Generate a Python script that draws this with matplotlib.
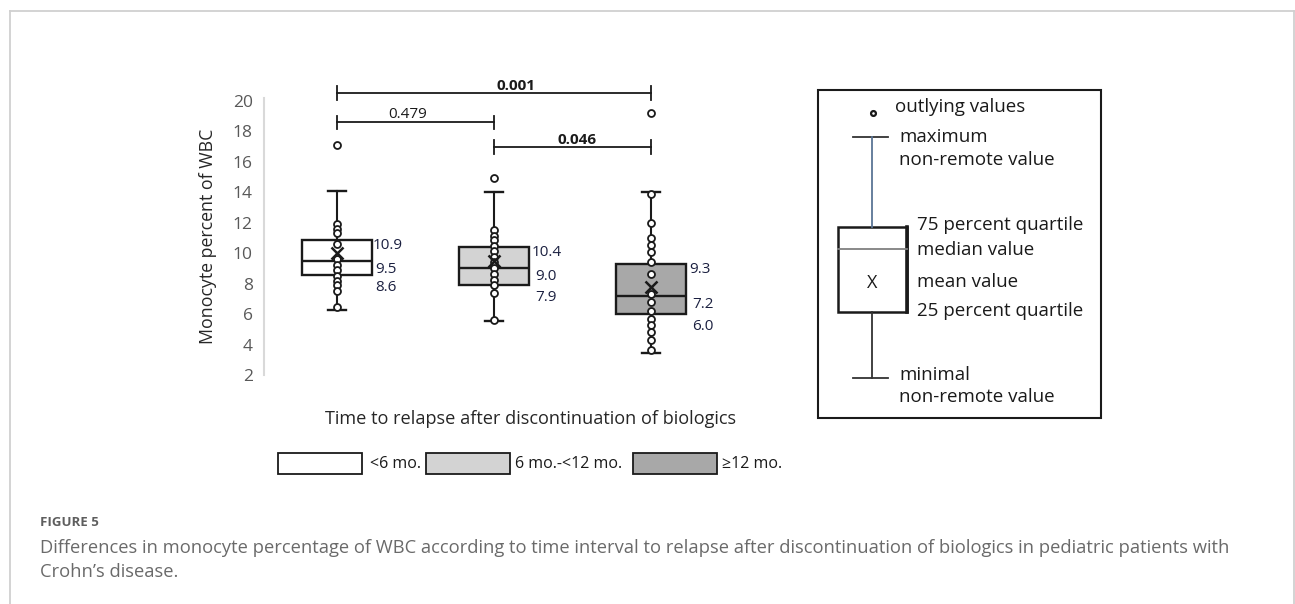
import matplotlib
matplotlib.use('Agg')
import matplotlib.pyplot as plt
from matplotlib.patches import Rectangle

plt.rcParams['font.family'] = ['Open Sans', 'DejaVu Sans']

# ---------------- data ----------------
groups = ['<6 mo.', '6 mo.-<12 mo.', '≥12 mo.']
q1 = [8.6, 7.9, 6.0]
medians = [9.5, 9.0, 7.2]
q3 = [10.9, 10.4, 9.3]
means = [10.0, 9.5, 7.8]
whisker_low = [6.25, 5.55, 3.45]
whisker_high = [14.1, 14.0, 14.0]
outliers = [[17.1], [14.95], [19.2]]
points_lt6 = [11.9, 11.6, 11.3, 10.6, 9.6, 9.2, 8.9, 8.5, 8.2, 7.9, 7.5, 6.5]
points_6to12 = [11.55, 11.1, 10.9, 10.5, 10.15, 9.75, 9.4, 9.0, 8.65, 8.25,
                7.9, 7.4, 5.6]
points_ge12 = [13.9, 12.0, 11.0, 10.55, 10.05, 9.45, 8.65, 7.35, 6.8, 6.2,
               5.7, 5.3, 4.85, 4.3, 3.65]
points = [points_lt6, points_6to12, points_ge12]
comparisons = [(1, 3), (1, 2), (2, 3)]
p_values = ['0.001', '0.479', '0.046']
p_significant = [True, False, True]
yticks = [2, 4, 6, 8, 10, 12, 14, 16, 18, 20]
fill_colors = ['#ffffff', '#d3d3d3', '#a8a8a8']

W, H = 1295, 604
fig = plt.figure(figsize=(W / 100, H / 100), dpi=100)
fig.patch.set_facecolor('white')


def fx(x):
    return x / W


def fy(y):
    return 1 - y / H


# ---------------- main axes ----------------
ax_left, ax_right, ax_top, ax_bot = 264, 720, 98.5, 375.2
ax = fig.add_axes([fx(ax_left), fy(ax_bot), (ax_right - ax_left) / W,
                   (ax_bot - ax_top) / H])
positions = [1, 2, 3]
stats = []
for i in range(3):
    stats.append(dict(med=medians[i], q1=q1[i], q3=q3[i],
                      whislo=whisker_low[i], whishi=whisker_high[i],
                      fliers=outliers[i], mean=means[i]))
bp = ax.bxp(stats, positions=positions, widths=0.446, patch_artist=True,
            showmeans=True, capwidths=0.12, manage_ticks=False,
            boxprops=dict(edgecolor='#1a1a1a', linewidth=1.7),
            medianprops=dict(color='#1a1a1a', linewidth=1.7),
            whiskerprops=dict(color='#1a1a1a', linewidth=1.5),
            capprops=dict(color='#1a1a1a', linewidth=1.7),
            flierprops=dict(marker='o', markersize=5, markerfacecolor='white',
                            markeredgecolor='#1a1a1a', markeredgewidth=1.3),
            meanprops=dict(marker='x', markersize=8, markeredgecolor='#1a1a1a',
                           markeredgewidth=1.8, zorder=5))
for patch, c in zip(bp['boxes'], fill_colors):
    patch.set_facecolor(c)

for pos, pts in zip(positions, points):
    ax.plot([pos] * len(pts), pts, 'o', ms=5, mfc='white', mec='#1a1a1a',
            mew=1.3, zorder=4)

ax.set_xlim(0.535, 3.44)
ax.set_ylim(2.15, 20.15)
ax.set_yticks(yticks)
ax.set_xticks([])
ax.tick_params(axis='y', length=0, pad=8, labelcolor='#595959', labelsize=12.5)
for s in ['top', 'right', 'bottom']:
    ax.spines[s].set_visible(False)
ax.spines['left'].set_color('#d9d9d9')
ax.spines['left'].set_linewidth(1.5)
ax.patch.set_alpha(0)

# value labels next to boxes
label_color = '#1b2040'
lab_dx = [0.005, 0.02, 0.02]
for i, pos in enumerate(positions):
    xr = pos + 0.223 + lab_dx[i]
    ax.annotate(f'{q3[i]:.1f}', (xr, q3[i]), xytext=(0, -4),
                textcoords='offset points', va='center', ha='left',
                fontsize=11, color=label_color)
    ax.annotate(f'{medians[i]:.1f}', (xr, medians[i]), xytext=(2, -6),
                textcoords='offset points', va='center', ha='left',
                fontsize=11, color=label_color)
    ax.annotate(f'{q1[i]:.1f}', (xr, q1[i]), xytext=(2, -9),
                textcoords='offset points', va='center', ha='left',
                fontsize=11, color=label_color)

# significance brackets
bracket_y = [20.52, 18.58, 16.96]
label_dx = [0.14, -0.05, 0.03]
tick_h = 0.45
for (a, b), p, sig, yb, dx in zip(comparisons, p_values, p_significant,
                                  bracket_y, label_dx):
    ax.plot([a, b], [yb, yb], color='#1a1a1a', lw=1.3, clip_on=False)
    for xe in (a, b):
        ax.plot([xe, xe], [yb - tick_h, yb + tick_h], color='#1a1a1a',
                lw=1.3, clip_on=False)
    ax.annotate(p, ((a + b) / 2 + dx, yb), xytext=(0, 0),
                textcoords='offset points', ha='center', va='bottom',
                fontsize=11, fontweight='bold' if sig else 'normal',
                color='#1a1a1a', annotation_clip=False)

# axis labels
fig.text(fx(208), fy(236), 'Monocyte percent of WBC', rotation=90,
         ha='center', va='center', fontsize=12.8, color='#262626')
fig.text(fx(531), fy(419), 'Time to relapse after discontinuation of biologics',
         ha='center', va='center', fontsize=13.1, color='#262626')

# ---------------- overlay for frame, legends, caption ----------------
ov = fig.add_axes([0, 0, 1, 1])
ov.set_xlim(0, W)
ov.set_ylim(H, 0)
ov.axis('off')

frame_c = '#d0d0d0'
ov.plot([9.5, 9.5], [H, 10.5], color=frame_c, lw=1.3)
ov.plot([9.5, 1293.5], [10.5, 10.5], color=frame_c, lw=1.3)
ov.plot([1293.5, 1293.5], [10.5, H], color=frame_c, lw=1.3)

# explanation box
ov.add_patch(Rectangle((818, 90), 283, 328, fill=False, ec='#1a1a1a', lw=1.5))
ov.plot(873, 113, 'o', ms=3.5, mfc='white', mec='#1a1a1a', mew=1.6)
ov.plot([853, 888], [137, 137], color='#333333', lw=1.3)
ov.plot([872, 872], [137, 227], color='#5a7595', lw=1.3)
ov.add_patch(Rectangle((838, 227), 69, 85, fc='white', ec='#1a1a1a', lw=1.8))
ov.plot([907, 907], [227, 312], color='#1a1a1a', lw=2.6)
ov.plot([838, 907], [249, 249], color='#808080', lw=1.3)
ov.text(872, 283, 'X', ha='center', va='center', fontsize=13, color='#1a1a1a')
ov.plot([872, 872], [312, 378], color='#333333', lw=1.3)
ov.plot([853, 888], [378, 378], color='#333333', lw=1.3)
exp_texts = [(895, 107, 'outlying values'), (899, 137, 'maximum'),
             (899, 160, 'non-remote value'), (917, 225, '75 percent quartile'),
             (917, 250, 'median value'), (917, 282, 'mean value'),
             (917, 311, '25 percent quartile'), (899, 375, 'minimal'),
             (899, 397, 'non-remote value')]
for x, y, t in exp_texts:
    ov.text(x, y, t, ha='left', va='center', fontsize=13.5, color='#1a1a1a')

# bottom legend
leg_box_x = [278, 426, 633]
leg_text_x = [370, 515, 722]
for g, c, bx, tx in zip(groups, fill_colors, leg_box_x, leg_text_x):
    ov.add_patch(Rectangle((bx, 453), 84, 21, fc=c, ec='#1a1a1a', lw=1.3))
    ov.text(tx, 464, g, ha='left', va='center', fontsize=11.5, color='#1a1a1a')

# caption
ov.text(40, 523, 'FIGURE 5', ha='left', va='center', fontsize=9.5,
        fontweight='bold', color='#5e5e5e')
ov.text(40, 548, 'Differences in monocyte percentage of WBC according to time '
        'interval to relapse after discontinuation of biologics in pediatric '
        'patients with', ha='left', va='center', fontsize=13.25, color='#6a6a6a')
ov.text(40, 572, 'Crohn’s disease.', ha='left', va='center', fontsize=13.25,
        color='#6a6a6a')

fig.savefig('out.png', dpi=100, facecolor='white')
